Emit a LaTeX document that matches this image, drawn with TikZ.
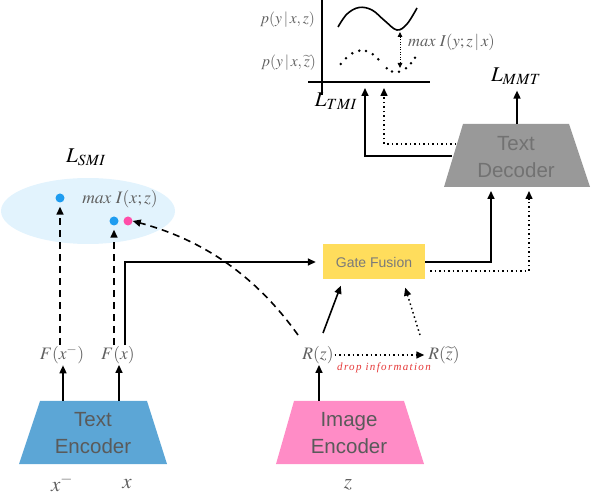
\documentclass[tikz,border=0pt]{standalone}
\usepackage{mathptmx}
\usepackage[no-math]{fontspec}
\setmainfont{Liberation Serif}
\newfontfamily\sansf{Liberation Sans}
\newfontfamily\dropfont[LetterSpace=12]{Liberation Serif}
\usetikzlibrary{arrows.meta,calc,shapes.geometric}
\definecolor{encblue}{HTML}{5CA6D6}
\definecolor{encpink}{HTML}{FF8CC6}
\definecolor{gateyellow}{HTML}{FFDD5C}
\definecolor{decgray}{HTML}{999999}
\definecolor{ellblue}{HTML}{E2F3FD}
\definecolor{dotblue}{HTML}{1E9CF0}
\definecolor{dotpink}{HTML}{FF4DA8}
\definecolor{labgray}{HTML}{606060}
\definecolor{enctxt}{HTML}{5A5A5A}
\definecolor{dectxt}{HTML}{727272}
\definecolor{gatetxt}{HTML}{7A7A7A}
\definecolor{dropred}{HTML}{E53838}
\begin{document}
\begin{tikzpicture}[x=1pt,y=-1pt,
  arr/.style={line width=1.6pt,-{Triangle[length=8pt,width=7pt]}},
  dasharr/.style={arr,dash pattern=on 7pt off 5pt},
  dotarr/.style={arr,line width=1.5pt,dash pattern=on 1.5pt off 3pt},
  mlab/.style={text=labgray,font=\fontsize{17.5}{20}\selectfont,inner sep=1pt},
  smlab/.style={text=labgray,font=\fontsize{15.5}{18}\selectfont,inner sep=1pt},
  botlab/.style={text=labgray,font=\fontsize{21}{24}\selectfont,inner sep=0pt},
  loss/.style={text=black,font=\fontsize{21}{24}\selectfont,inner sep=1pt},
  enctext/.style={text=enctxt,font=\sansf\fontsize{20.5}{27}\selectfont,align=center},
  dot/.style={circle,inner sep=0pt,minimum size=9pt}
]
\useasboundingbox (0,0) rectangle (592,494);

% ---- SMI ellipse
\node[ellipse,fill=ellblue,minimum width=174pt,minimum height=66pt,inner sep=0pt] (ell) at (88,211) {};
\node[dot,fill=dotblue] (d1) at (60,198) {};
\node[dot,fill=dotblue] (d2) at (114,221) {};
\node[dot,fill=dotpink] (d3) at (128,221) {};
\node[mlab] (maxI) at (120,199) {$max\ I(x;z)$};
\node[loss] (lsmi) at (86,157) {$L_{SMI}$};

% ---- Text encoder
\fill[encblue] (40,401) -- (147,401) -- (167,464) -- (19,464) -- cycle;
\node[enctext] (te) at (93,433) {Text\\Encoder};
\coordinate (te1) at (63,401);
\coordinate (te2) at (119,401);
\node[mlab] (fxm) at (62,355) {$F(x^-)$};
\node[mlab] (fx) at (118,355) {$F(x)$};
\node[botlab] (xm) at (62,483) {$x^-$};
\node[botlab] (xx) at (127,484) {$x$};
\draw[arr] (te1) -- (te1 |- fxm.south);
\draw[arr] (te2) -- (te2 |- fx.south);
\draw[dasharr,shorten >=4pt] (fxm.north -| d1) -- (d1.south);
\draw[dasharr,shorten >=4pt] (fx.north -| d2) -- (d2.south);

% ---- Gate fusion
\node[fill=gateyellow,minimum width=102pt,minimum height=35pt,text=gatetxt,font=\sansf\fontsize{14}{16}\selectfont] (gate) at (374,262) {Gate Fusion};
\coordinate (fxr) at (125,262);
\draw[arr,shorten >=7pt] (fx.north -| fxr) -- (fxr) -- (gate.west);

% ---- Image encoder
\fill[encpink] (294,401) -- (404,401) -- (424,464) -- (276,464) -- cycle;
\node[enctext] (ie) at (349,433) {Image\\Encoder};
\coordinate (ie1) at (319,401);
\node[botlab] (zz) at (348,485) {$z$};
\node[mlab] (rz) at (318,355) {$R(z)$};
\node[mlab] (rzt) at (444,355) {$R(\widetilde{z})$};
\draw[arr] (ie1) -- (ie1 |- rz.south);
\draw[dotarr,shorten >=3pt] (rz.east) -- (rzt.west);
\node[text=dropred,font=\dropfont\itshape\fontsize{11}{13}\selectfont,inner sep=0pt] (drop) at (384,368) {drop information};
\coordinate (rzs) at (323,333);
\coordinate (rzts) at (420,335);
\coordinate (rzc) at (298,335);
\draw[arr] (rzs) -- ($(gate.south west)+(18,6)$);
\draw[dotarr] (rzts) -- ($(gate.south east)+(-20,8)$);
\draw[dasharr] (rzc) .. controls (258,279) and (207,241) .. (d3.east);

% ---- Text decoder
\fill[decgray] (463,124) -- (569,124) -- (590,187) -- (444,187) -- cycle;
\node[enctext,text=dectxt] (dec) at (516,157) {Text\\Decoder};
\coordinate (dec1) at (491,191);
\coordinate (dec2) at (529,191);
\draw[arr] (gate.east) -| (dec1);
\draw[dotarr] ($(gate.east)+(5,9)$) -| (dec2);
\node[loss] (lmmt) at (516,76) {$L_{MMT}$};
\coordinate (dectop) at (517,124);
\draw[arr,shorten >=5pt] (dectop) -- (dectop |- lmmt.south);

% ---- TMI plot
\draw[line width=1.6pt] (322,0) -- (322,95);
\draw[line width=1.6pt] (308,82) -- (430,82);
\node[loss] (ltmi) at (336,101) {$L_{TMI}$};
\node[smlab,anchor=east] (py1) at (316,20) {$p(y\,|\,x,z)$};
\node[smlab,anchor=east,inner sep=0pt] (py2) at (316,63) {$p(y\,|\,x,\widetilde{z})$};
\draw[line width=1.6pt] plot[smooth,tension=0.6] coordinates {(338,27) (347,14) (359,7.5) (372,10) (385,21) (397,30) (407,24) (417,8)};
\foreach \p in {(340.7,64),(346,58.3),(352.3,53.3),(359.3,50.7),(366,51),(372.7,54.3),(378.3,59.3),(386.7,68.3),(392,71.5),(399,71.7),(406,68.3),(411,63.3),(415,57.7)}
  \fill \p circle (1.4pt);
\coordinate (mx1) at (400,32);
\coordinate (mx2) at (400,68);
\draw[line width=0.9pt,dash pattern=on 1pt off 1.5pt,{Triangle[length=5pt,width=4.5pt]}-{Triangle[length=5pt,width=4.5pt]}] (mx1) -- (mx2);
\node[smlab,font=\fontsize{16.5}{18}\selectfont,anchor=west] (maxI2) at (407,42) {$max\ I(y;z\,|\,x)$};
\coordinate (ax1) at (365,88);
\coordinate (ax2) at (384,88);
\coordinate (dl1) at (452,156);
\coordinate (dl2) at (456,144);
\draw[arr] (dl1) -| (ax1);
\draw[dotarr] (dl2) -| (ax2);
\end{tikzpicture}
\end{document}
